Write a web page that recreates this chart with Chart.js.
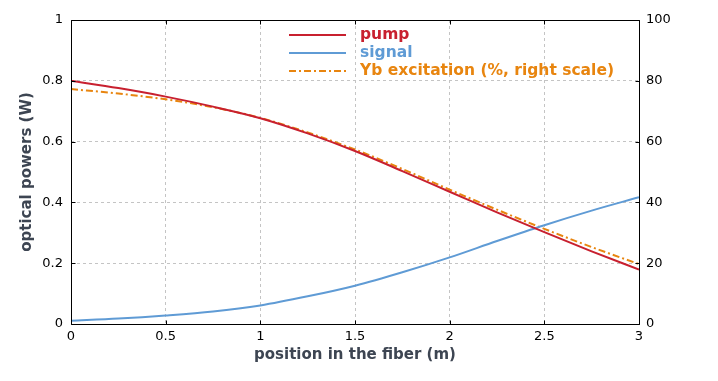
<!DOCTYPE html>
<html>
<head>
<meta charset="utf-8">
<script src="https://cdn.jsdelivr.net/npm/chart.js@4.4.1/dist/chart.umd.min.js"></script>
<style>
html,body{margin:0;padding:0;background:#fff;}
#wrap{width:718px;height:381px;position:relative;}
</style>
</head>
<body>
<div id="wrap"><canvas id="c" width="718" height="381"></canvas></div>
<script>
// ---- data ----
const positions = [0, 0.25, 0.5, 0.75, 1, 1.25, 1.5, 1.75, 2, 2.25, 2.5, 2.75, 3];
const pumpW   = [0.800, 0.776, 0.748, 0.715, 0.677, 0.627, 0.569, 0.503, 0.435, 0.367, 0.302, 0.239, 0.179];
const signalW = [0.011, 0.018, 0.028, 0.041, 0.061, 0.091, 0.126, 0.170, 0.219, 0.273, 0.325, 0.373, 0.417];
const ybPct   = [77.3, 75.8, 73.9, 71.3, 67.8, 63.0, 57.4, 51.0, 44.2, 37.6, 31.3, 25.3, 19.7];
const seriesNames = ['pump', 'signal', 'Yb excitation (%, right scale)'];
const xTicks = [0, 0.5, 1, 1.5, 2, 2.5, 3];
const yLeftTicks = [0, 0.2, 0.4, 0.6, 0.8, 1];
const yRightTicks = [0, 20, 40, 60, 80, 100];

const colors = ['#c8202f', '#5f9bd5', '#e8850f'];
const dashes = [[], [], [7, 3, 2, 3]];

const toPts = arr => positions.map((x, i) => ({x: x, y: arr[i]}));

const FONT = "'DejaVu Sans', Verdana, sans-serif";
const TITLE_COLOR = '#3d4552';

const legendPlugin = {
  id: 'customLegend',
  afterDatasetsDraw(chart) {
    const ctx = chart.ctx;
    const rows = [35, 53, 71];
    ctx.save();
    chart.data.datasets.forEach((ds, i) => {
      const y = rows[i];
      ctx.beginPath();
      ctx.lineWidth = 2;
      ctx.strokeStyle = ds.borderColor;
      ctx.setLineDash(ds.borderDash || []);
      ctx.moveTo(289, y);
      ctx.lineTo(346, y);
      ctx.stroke();
      ctx.setLineDash([]);
      ctx.fillStyle = ds.borderColor;
      ctx.font = "bold 15.5px " + FONT;
      ctx.textBaseline = 'middle';
      ctx.textAlign = 'left';
      ctx.fillText(seriesNames[i], 360, y);
    });
    ctx.restore();
  }
};

const framePlugin = {
  id: 'frame',
  afterDraw(chart) {
    const {ctx, chartArea: a, scales} = chart;
    ctx.save();
    ctx.strokeStyle = '#000';
    ctx.lineWidth = 1;
    ctx.setLineDash([]);
    ctx.beginPath();
    const L = Math.round(a.left) + 0.5, R = Math.round(a.right) + 0.5;
    const T = Math.round(a.top) + 0.5, B = Math.round(a.bottom) + 0.5;
    ctx.rect(L, T, R - L, B - T);
    const tl = 4;
    scales.x.ticks.forEach(t => {
      const px = Math.round(scales.x.getPixelForValue(t.value)) + 0.5;
      ctx.moveTo(px, B); ctx.lineTo(px, B - tl);
      ctx.moveTo(px, T); ctx.lineTo(px, T + tl);
    });
    scales.y.ticks.forEach(t => {
      const py = Math.round(scales.y.getPixelForValue(t.value)) + 0.5;
      ctx.moveTo(L, py); ctx.lineTo(L + tl, py);
    });
    scales.y2.ticks.forEach(t => {
      const py = Math.round(scales.y2.getPixelForValue(t.value)) + 0.5;
      ctx.moveTo(R, py); ctx.lineTo(R - tl, py);
    });
    ctx.stroke();
    ctx.restore();
  }
};

new Chart(document.getElementById('c'), {
  type: 'line',
  data: {
    datasets: [
      {label: seriesNames[0], data: toPts(pumpW), yAxisID: 'y', borderColor: colors[0], borderDash: dashes[0]},
      {label: seriesNames[1], data: toPts(signalW), yAxisID: 'y', borderColor: colors[1], borderDash: dashes[1]},
      {label: seriesNames[2], data: toPts(ybPct), yAxisID: 'y2', borderColor: colors[2], borderDash: dashes[2]}
    ]
  },
  options: {
    responsive: false,
    animation: false,
    events: [],
    layout: {padding: {top: 20, left: 0, right: 0, bottom: 0}},
    elements: {
      line: {borderWidth: 2, tension: 0, cubicInterpolationMode: 'monotone', fill: false},
      point: {radius: 0}
    },
    plugins: {legend: {display: false}, tooltip: {enabled: false}},
    scales: {
      x: {
        type: 'linear', min: 0, max: 3,
        afterBuildTicks: s => { s.ticks = xTicks.map(v => ({value: v})); },
        afterFit: s => { s.height = 57; },
        grid: {color: '#c4c4c4', lineWidth: 1, drawTicks: false},
        border: {display: false, dash: [3, 3]},
        ticks: {color: '#000', font: {family: FONT, size: 13}, padding: 5, maxRotation: 0,
                callback: v => String(v)},
        title: {display: true, text: 'position in the fiber (m)', color: TITLE_COLOR,
                font: {family: FONT, size: 15, weight: 'bold'}, padding: {top: 0, bottom: 17}}
      },
      y: {
        type: 'linear', position: 'left', min: 0, max: 1,
        afterBuildTicks: s => { s.ticks = yLeftTicks.map(v => ({value: v})); },
        afterFit: s => { s.width = 71; },
        grid: {color: '#c4c4c4', lineWidth: 1, drawTicks: false},
        border: {display: false, dash: [3, 3]},
        ticks: {color: '#000', font: {family: FONT, size: 13}, padding: 8,
                callback: v => String(Math.round(v * 10) / 10)},
        title: {display: true, text: 'optical powers (W)', color: TITLE_COLOR,
                font: {family: FONT, size: 15, weight: 'bold'}, padding: {top: 18, bottom: 0}}
      },
      y2: {
        type: 'linear', position: 'right', min: 0, max: 100,
        afterBuildTicks: s => { s.ticks = yRightTicks.map(v => ({value: v})); },
        afterFit: s => { s.width = 79; },
        grid: {display: false, drawTicks: false},
        border: {display: false},
        ticks: {color: '#000', font: {family: FONT, size: 13}, padding: 7,
                callback: v => String(v)}
      }
    }
  },
  plugins: [legendPlugin, framePlugin]
});
</script>
</body>
</html>
